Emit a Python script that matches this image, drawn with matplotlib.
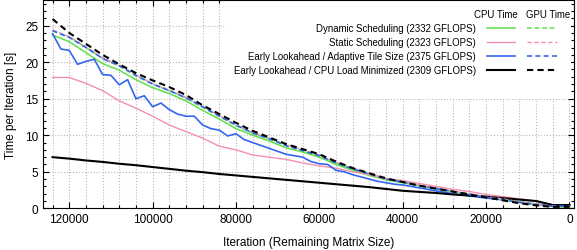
import matplotlib
matplotlib.use("Agg")
import matplotlib.pyplot as plt
import matplotlib.ticker as mticker
from matplotlib.patches import Rectangle

plt.rcParams['font.family'] = ['Liberation Sans', 'DejaVu Sans']

# remaining matrix size (x), coarse and fine steps
x_coarse = list(range(124000, -1, -4000))
x_fine = list(range(124000, -1, -2000))

# CPU times
dyn_cpu = [23.7, 22.8, 21.3, 19.8, 18.9, 17.6, 16.5, 15.7, 14.7, 13.4, 12.2, 10.9, 10.0, 9.2, 8.3, 7.7,
           7.0, 6.0, 5.2, 4.5, 3.9, 3.5, 3.1, 2.7, 2.3, 1.9, 1.6, 1.3, 0.9, 0.6, 0.3, 0.1]
static_cpu = [17.9, 17.9, 17.1, 16.1, 14.7, 13.7, 12.6, 11.4, 10.5, 9.6, 8.5, 8.0, 7.3, 7.0, 6.7, 6.2,
              5.8, 5.5, 5.0, 4.6, 4.0, 3.8, 3.4, 3.0, 2.6, 2.3, 1.9, 1.6, 1.3, 1.0, 0.5, 0.3]
adapt_cpu = [23.9, 21.8, 21.6, 19.7, 20.1, 20.4, 18.3, 18.2, 16.9, 17.6, 15.0, 15.4, 13.9, 14.4, 13.5, 12.9,
             12.6, 12.6, 11.4, 10.9, 10.7, 9.9, 10.2, 9.4, 9.0, 8.6, 8.2, 7.8, 7.4, 7.2, 7.0, 6.4,
             6.1, 6.0, 5.2, 5.0, 4.6, 4.3, 4.0, 3.7, 3.5, 3.3, 3.2, 3.0, 2.8, 2.6, 2.4, 2.2,
             2.0, 1.85, 1.7, 1.55, 1.4, 1.3, 1.15, 1.0, 0.85, 0.7, 0.55, 0.45, 0.35, 0.35, 0.35]
minload_cpu = [7.0, 6.8, 6.55, 6.35, 6.1, 5.9, 5.65, 5.4, 5.15, 4.95, 4.7, 4.5, 4.3, 4.1, 3.9, 3.7,
               3.5, 3.3, 3.1, 2.9, 2.65, 2.4, 2.25, 2.1, 1.9, 1.75, 1.6, 1.4, 1.2, 1.0, 0.45, 0.45]

# GPU times
dyn_gpu = [24.3, 23.4, 22.0, 20.5, 19.5, 18.1, 17.0, 16.1, 15.1, 13.8, 12.6, 11.3, 10.3, 9.5, 8.6, 7.9,
           7.2, 6.2, 5.4, 4.7, 4.0, 3.6, 3.1, 2.7, 2.3, 1.9, 1.5, 1.2, 0.8, 0.5, 0.3, 0.2]
static_gpu = [24.4, 23.5, 22.1, 20.6, 19.6, 18.2, 17.1, 16.2, 15.2, 13.9, 12.7, 11.4, 10.4, 9.6, 8.7, 8.0,
              7.3, 6.3, 5.5, 4.8, 4.1, 3.7, 3.2, 2.8, 2.4, 2.0, 1.6, 1.3, 0.9, 0.6, 0.3, 0.2]
adapt_gpu = [24.3, 23.4, 22.0, 20.5, 19.5, 18.2, 17.0, 16.1, 15.1, 13.9, 12.6, 11.4, 10.3, 9.5, 8.6, 7.9,
             7.2, 6.2, 5.4, 4.7, 4.0, 3.6, 3.1, 2.7, 2.3, 1.9, 1.5, 1.2, 0.8, 0.5, 0.3, 0.3]
minload_gpu = [25.9, 24.0, 22.5, 21.0, 19.7, 18.5, 17.5, 16.6, 15.5, 14.1, 12.9, 11.7, 10.6, 9.7, 8.8, 8.1,
               7.4, 6.4, 5.5, 4.8, 4.1, 3.6, 3.1, 2.7, 2.3, 1.9, 1.5, 1.1, 0.7, 0.4, 0.2, 0.2]

labels = ["Dynamic Scheduling (2332 GFLOPS)",
          "Static Scheduling (2323 GFLOPS)",
          "Early Lookahead / Adaptive Tile Size (2375 GFLOPS)",
          "Early Lookahead / CPU Load Minimized (2309 GFLOPS)"]
colors = ['#5ee04c', '#f48fb1', '#3366ee', 'black']
widths = [1.1, 1.0, 1.2, 1.5]
dash = (0, (3, 2))

fig = plt.figure(figsize=(5.77, 2.51), dpi=100)
ax = fig.add_axes([0.0745, 0.166, 0.9203, 0.830])

cpu_series = [(x_coarse, dyn_cpu), (x_coarse, static_cpu), (x_fine, adapt_cpu), (x_coarse, minload_cpu)]
gpu_series = [(x_coarse, dyn_gpu), (x_coarse, static_gpu), (x_coarse, adapt_gpu), (x_coarse, minload_gpu)]

for (xs, ys), c, w in zip(cpu_series, colors, widths):
    ax.plot(xs, ys, color=c, lw=w, zorder=3)
for (xs, ys), c, w in zip(gpu_series, colors, widths):
    ax.plot(xs, ys, color=c, lw=w, linestyle=dash, zorder=3)

ax.set_xlim(126300, -1100)
ax.set_ylim(0, 28.5)

ax.xaxis.set_major_locator(mticker.MultipleLocator(20000))
ax.xaxis.set_minor_locator(mticker.MultipleLocator(4000))
ax.yaxis.set_major_locator(mticker.MultipleLocator(5))
ax.yaxis.set_minor_locator(mticker.MultipleLocator(1))
ax.tick_params(which='both', direction='in', top=True, right=True, labelsize=8.5, width=0.8)
ax.tick_params(which='major', length=4)
ax.tick_params(which='minor', length=2.5)

ax.grid(True, which='major', axis='y', linestyle=':', color='#b8b8b8', lw=0.8)
ax.grid(True, which='both', axis='x', linestyle=':', color='#b8b8b8', lw=0.8)
ax.set_axisbelow(True)

ax.set_xlabel("Iteration (Remaining Matrix Size)", fontsize=8.5, labelpad=8)
ax.set_ylabel("Time per Iteration [s]", fontsize=8.5, labelpad=6)

# legend drawn by hand: labels on the left, CPU and GPU samples in two columns
ax.add_patch(Rectangle((0.345, 0.525), 0.65, 0.48, transform=ax.transAxes,
                       facecolor='white', edgecolor='none', zorder=2))
fs = 6.9
ax.text(0.853, 0.933, "CPU Time", transform=ax.transAxes, ha='center', va='center', fontsize=fs, zorder=4)
ax.text(0.951, 0.933, "GPU Time", transform=ax.transAxes, ha='center', va='center', fontsize=fs, zorder=4)
rows = [0.864, 0.800, 0.733, 0.666]
for yr, lab, c, w in zip(rows, labels, colors, widths):
    ax.text(0.815, yr, lab, transform=ax.transAxes, ha='right', va='center', fontsize=fs, zorder=4)
    ax.plot([0.836, 0.889], [yr, yr], transform=ax.transAxes, color=c, lw=w, zorder=4)
    ax.plot([0.911, 0.968], [yr, yr], transform=ax.transAxes, color=c, lw=w, linestyle=dash, zorder=4)

fig.savefig("out.png", dpi=100)
